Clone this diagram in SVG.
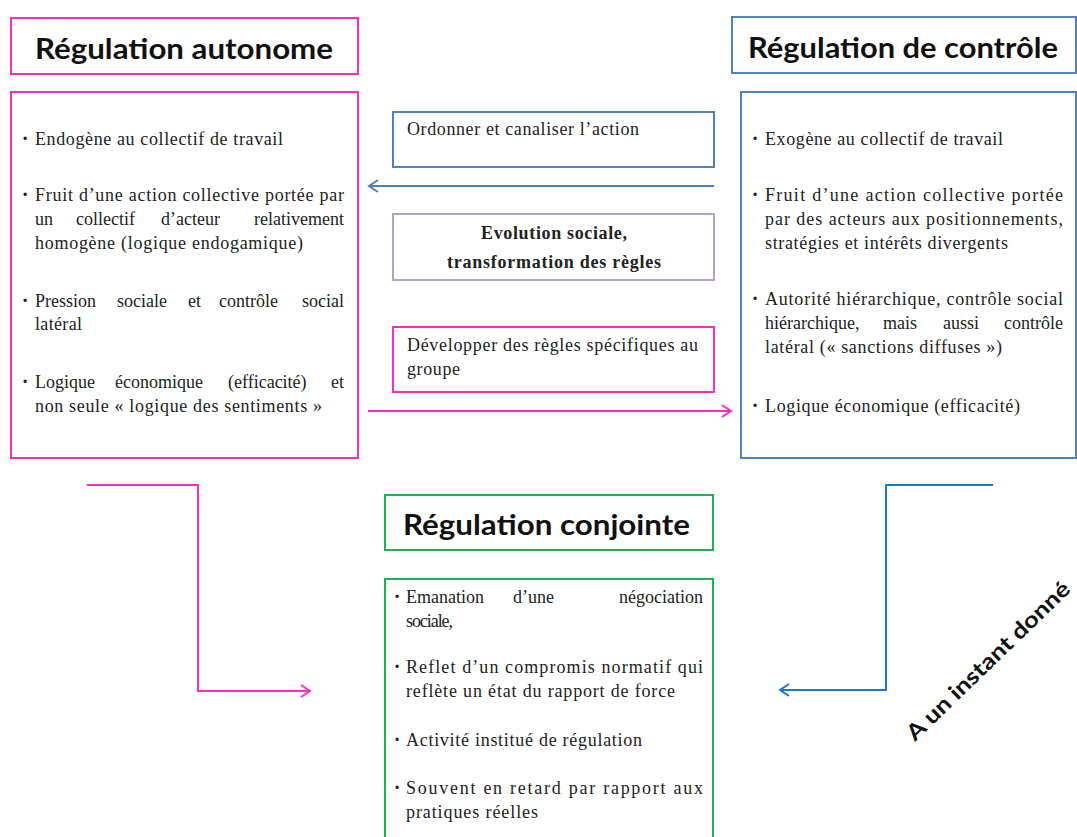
<svg xmlns="http://www.w3.org/2000/svg" width="1077" height="837" viewBox="0 0 1077 837">
<style>
.box{fill:#fff;stroke-width:2}
.pink{stroke:#fb2cc0}
.blue{stroke:#4f81bd}
.purple{stroke:#b3a2c7}
.green{stroke:#1fb050}
.title{font-family:Lato,"Liberation Sans",sans-serif;font-weight:bold;font-size:29px;fill:#111}
.t{font-family:'Liberation Serif','DejaVu Serif',serif;font-size:18px;fill:#222}
.tb{font-family:'Liberation Serif','DejaVu Serif',serif;font-size:18px;font-weight:bold;fill:#222}
.e{text-anchor:end}
.bul{font-family:'Liberation Sans',sans-serif;font-size:12px;fill:#222}
.rot{font-family:Lato,'Liberation Sans',sans-serif;font-weight:bold;font-size:22px;fill:#111}
.c{fill:none;stroke-width:2}
</style>
<defs>
<marker id="ap" markerWidth="14" markerHeight="14" refX="11" refY="7" orient="auto" markerUnits="userSpaceOnUse"><path d="M2,1 L11,7 L2,13" fill="none" stroke="#fb2cc0" stroke-width="2"/></marker>
<marker id="ab" markerWidth="14" markerHeight="14" refX="11" refY="7" orient="auto" markerUnits="userSpaceOnUse"><path d="M2,1 L11,7 L2,13" fill="none" stroke="#4f81bd" stroke-width="2"/></marker>
<marker id="ab2" markerWidth="14" markerHeight="14" refX="11" refY="7" orient="auto" markerUnits="userSpaceOnUse"><path d="M2,1 L11,7 L2,13" fill="none" stroke="#1a78c8" stroke-width="2"/></marker>
</defs>
<rect width="1077" height="837" fill="#fff"/>

<g id="connectors">
<line class="c" x1="714" y1="186" x2="369" y2="186" stroke="#4f81bd" marker-end="url(#ab)"/>
<line class="c" x1="368" y1="411" x2="731" y2="411" stroke="#fb2cc0" marker-end="url(#ap)"/>
<polyline class="c" points="87,485 198,485 198,691 310,691" stroke="#fb2cc0" marker-end="url(#ap)"/>
<polyline class="c" points="993,485 886,485 886,690 780,690" stroke="#1a78c8" marker-end="url(#ab2)"/>
</g>

<g id="title-autonome">
<rect class="box pink" x="11" y="18" width="347" height="56"/>
<text class="title" x="35" y="59" textLength="298" lengthAdjust="spacingAndGlyphs">Régulation autonome</text>
</g>

<g id="box-autonome">
<rect class="box pink" x="11" y="92" width="347" height="366"/>
<text class="bul" x="23" y="143">•</text>
<text class="t" x="35" y="145" textLength="248" lengthAdjust="spacing">Endogène au collectif  de travail</text>
<text class="bul" x="23" y="199">•</text>
<text class="t" x="35" y="201" textLength="309" lengthAdjust="spacing">Fruit d’une action collective portée par</text>
<text class="t" y="225"><tspan x="35">un</tspan> <tspan x="76">collectif</tspan> <tspan x="161">d’acteur</tspan> <tspan x="344" class="e">relativement</tspan></text>
<text class="t" x="35" y="249" textLength="268" lengthAdjust="spacing">homogène (logique endogamique)</text>
<text class="bul" x="23" y="305">•</text>
<text class="t" y="307"><tspan x="35">Pression</tspan> <tspan x="117">sociale</tspan> <tspan x="188">et</tspan> <tspan x="219">contrôle</tspan> <tspan x="344" class="e">social</tspan></text>
<text class="t" x="35" y="330" textLength="47" lengthAdjust="spacing">latéral</text>
<text class="bul" x="23" y="386">•</text>
<text class="t" y="388"><tspan x="35">Logique</tspan> <tspan x="115">économique</tspan> <tspan x="228">(efficacité)</tspan> <tspan x="344" class="e">et</tspan></text>
<text class="t" x="35" y="412" textLength="287" lengthAdjust="spacing">non seule « logique des sentiments »</text>
</g>

<g id="title-controle">
<rect class="box blue" x="732" y="17" width="344" height="56"/>
<text class="title" x="748" y="58" textLength="310" lengthAdjust="spacingAndGlyphs">Régulation de contrôle</text>
</g>

<g id="box-controle">
<rect class="box blue" x="741" y="92" width="335" height="366"/>
<text class="bul" x="753" y="143">•</text>
<text class="t" x="765" y="145" textLength="238" lengthAdjust="spacing">Exogène au collectif  de travail</text>
<text class="bul" x="753" y="199">•</text>
<text class="t" x="765" y="201" textLength="298" lengthAdjust="spacing">Fruit d’une action collective portée</text>
<text class="t" x="765" y="225" textLength="298" lengthAdjust="spacing">par des acteurs aux positionnements,</text>
<text class="t" x="765" y="249" textLength="243" lengthAdjust="spacing">stratégies et intérêts divergents</text>
<text class="bul" x="753" y="303">•</text>
<text class="t" x="765" y="305" textLength="298" lengthAdjust="spacing">Autorité hiérarchique, contrôle social</text>
<text class="t" y="329"><tspan x="765">hiérarchique,</tspan> <tspan x="883">mais</tspan> <tspan x="943">aussi</tspan> <tspan x="1063" class="e">contrôle</tspan></text>
<text class="t" x="765" y="353" textLength="237" lengthAdjust="spacing">latéral (« sanctions diffuses »)</text>
<text class="bul" x="753" y="410">•</text>
<text class="t" x="765" y="412" textLength="255" lengthAdjust="spacing">Logique économique (efficacité)</text>
</g>

<g id="box-ordonner">
<rect class="box blue" x="393" y="112" width="321" height="55"/>
<text class="t" x="407" y="135" textLength="232" lengthAdjust="spacing">Ordonner et canaliser l’action</text>
</g>

<g id="box-evolution">
<rect class="box purple" x="393" y="214" width="321" height="66"/>
<text class="tb" x="481" y="239" textLength="146" lengthAdjust="spacing">Evolution sociale,</text>
<text class="tb" x="447" y="268" textLength="214" lengthAdjust="spacing">transformation des règles</text>
</g>

<g id="box-developper">
<rect class="box pink" x="393" y="327" width="321" height="65"/>
<text class="t" x="407" y="351" textLength="291" lengthAdjust="spacing">Développer des règles spécifiques au</text>
<text class="t" x="407" y="375" textLength="53" lengthAdjust="spacing">groupe</text>
</g>

<g id="title-conjointe">
<rect class="box green" x="385" y="495" width="328" height="55"/>
<text class="title" x="403" y="535" textLength="287" lengthAdjust="spacingAndGlyphs">Régulation conjointe</text>
</g>

<g id="box-conjointe">
<rect class="box green" x="385" y="579" width="328" height="270"/>
<text class="bul" x="395" y="601">•</text>
<text class="t" y="603"><tspan x="406">Emanation</tspan> <tspan x="513">d’une</tspan> <tspan x="703" class="e">négociation</tspan></text>
<text class="t" x="406" y="627" textLength="47" lengthAdjust="spacing">sociale,</text>
<text class="bul" x="395" y="671">•</text>
<text class="t" x="406" y="673" textLength="297" lengthAdjust="spacing">Reflet d’un compromis normatif qui</text>
<text class="t" x="406" y="697" textLength="269" lengthAdjust="spacing">reflète un état du rapport de force</text>
<text class="bul" x="395" y="744">•</text>
<text class="t" x="406" y="746" textLength="236" lengthAdjust="spacing">Activité institué de régulation</text>
<text class="bul" x="395" y="792">•</text>
<text class="t" x="406" y="794" textLength="297" lengthAdjust="spacing">Souvent en retard par rapport aux</text>
<text class="t" x="406" y="818" textLength="132" lengthAdjust="spacing">pratiques réelles</text>
</g>

<g id="label-instant">
<text class="rot" x="0" y="0" transform="translate(915,742) rotate(-44)" textLength="218" lengthAdjust="spacingAndGlyphs">A un instant donné</text>
</g>
</svg>
